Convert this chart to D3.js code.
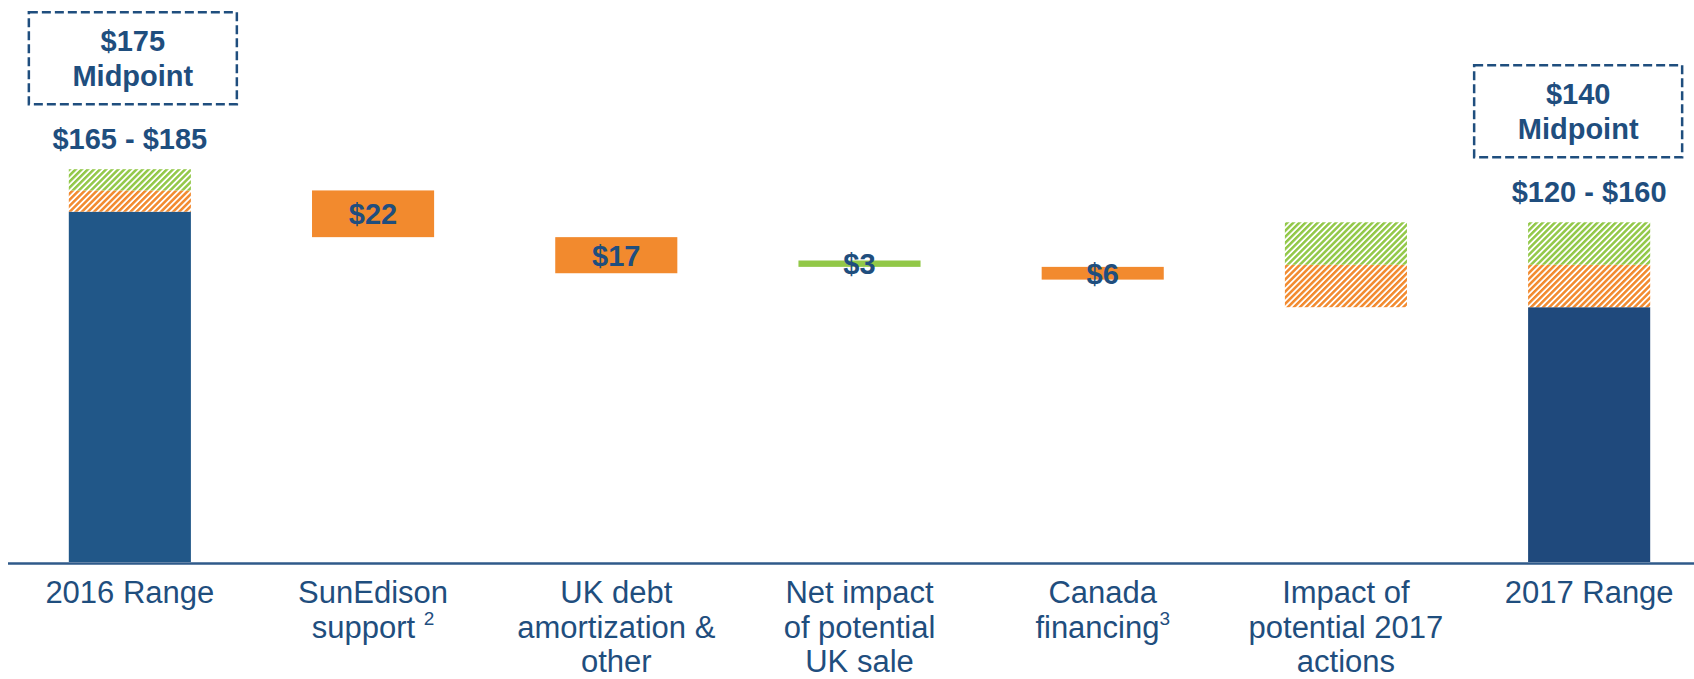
<!DOCTYPE html>
<html>
<head>
<meta charset="utf-8">
<script src="https://cdn.jsdelivr.net/npm/d3@7"></script>
<style>
  html, body { margin: 0; padding: 0; background: #fff; }
  svg { display: block; font-family: "Liberation Sans", Arial, sans-serif; }
</style>
</head>
<body>
<div id="chart"></div>
<script>
// ---- data ----
const categories = ['2016 Range', 'SunEdison support', 'UK debt amortization & other',
  'Net impact of potential UK sale', 'Canada financing', 'Impact of potential 2017 actions', '2017 Range'];
const categoryLines = [
  ['2016 Range'],
  ['SunEdison', 'support '],
  ['UK debt', 'amortization &', 'other'],
  ['Net impact', 'of potential', 'UK sale'],
  ['Canada', 'financing'],
  ['Impact of', 'potential 2017', 'actions'],
  ['2017 Range']
];
const categoryNotes = ['', '2', '', '', '3', '', ''];

// totals (range bars)
const totalCats = ['2016 Range', '2017 Range'];
const totalLow  = [165, 120];
const totalMid  = [175, 140];
const totalHigh = [185, 160];
const rangeLabels = ['$165 - $185', '$120 - $160'];
const midLabels   = ['$175', '$140'];

// floating steps
const stepCats   = ['SunEdison support', 'UK debt amortization & other', 'Net impact of potential UK sale', 'Canada financing'];
const stepLow    = [153, 136, 139, 133];
const stepHigh   = [175, 153, 142, 139];
const stepType   = ['dec', 'dec', 'inc', 'dec'];
const stepLabels = ['$22', '$17', '$3', '$6'];

// hatched range of potential 2017 actions
const actionCat  = 'Impact of potential 2017 actions';
const actionLow  = 120;
const actionMid  = 140;
const actionHigh = 160;

// ---- style ----
const W = 1694, H = 679;
const BLUE_TEXT = '#1F4E7E';
const BAR_2016 = '#215788', BAR_2017 = '#1F497C';
const ORANGE = '#F28A2E', GREEN = '#92C848';
const BOX_DX = [3, -11];   // midpoint box nudges

const svg = d3.select('#chart').append('svg').attr('width', W).attr('height', H);

const x = d3.scaleBand().domain(categories).range([8, 1711]).paddingInner(0.498).paddingOuter(0.25);
const y = d3.scaleLinear().domain([0, 185]).range([562, 169.2]);

// hatch patterns
const defs = svg.append('defs');
[['hatch-orange', ORANGE], ['hatch-green', GREEN]].forEach(([id, c]) => {
  const p = defs.append('pattern').attr('id', id).attr('patternUnits', 'userSpaceOnUse')
    .attr('width', 4.3).attr('height', 4.3).attr('patternTransform', 'rotate(45)');
  p.append('rect').attr('width', 4.3).attr('height', 4.3).attr('fill', '#fff');
  p.append('rect').attr('width', 2.5).attr('height', 4.3).attr('fill', c);
});

const g = svg.append('g');

// total bars: solid + hatched orange (low->mid) + hatched green (mid->high)
totalCats.forEach((c, i) => {
  const bx = x(c), bw = x.bandwidth();
  g.append('rect').attr('x', bx).attr('width', bw)
    .attr('y', y(totalLow[i])).attr('height', y(0) - y(totalLow[i]))
    .attr('fill', i === 0 ? BAR_2016 : BAR_2017);
  g.append('rect').attr('x', bx).attr('width', bw)
    .attr('y', y(totalMid[i])).attr('height', y(totalLow[i]) - y(totalMid[i]))
    .attr('fill', 'url(#hatch-orange)');
  g.append('rect').attr('x', bx).attr('width', bw)
    .attr('y', y(totalHigh[i])).attr('height', y(totalMid[i]) - y(totalHigh[i]))
    .attr('fill', 'url(#hatch-green)');

  const cx = bx + bw / 2;
  const labelY = y(totalHigh[i]) - 20;
  g.append('text').attr('x', cx).attr('y', labelY).attr('text-anchor', 'middle')
    .attr('font-size', 29).attr('font-weight', 'bold').attr('fill', BLUE_TEXT)
    .text(rangeLabels[i]);

  const boxBottom = labelY - 45, boxH = 92, boxW = 208;
  const bcx = cx + BOX_DX[i];
  g.append('rect').attr('x', bcx - boxW / 2).attr('y', boxBottom - boxH)
    .attr('width', boxW).attr('height', boxH)
    .attr('fill', 'none').attr('stroke', BLUE_TEXT).attr('stroke-width', 2.5)
    .attr('stroke-dasharray', '9,4');
  g.append('text').attr('x', bcx).attr('y', boxBottom - boxH + 39).attr('text-anchor', 'middle')
    .attr('font-size', 29).attr('font-weight', 'bold').attr('fill', BLUE_TEXT)
    .text(midLabels[i]);
  g.append('text').attr('x', bcx).attr('y', boxBottom - boxH + 74).attr('text-anchor', 'middle')
    .attr('font-size', 29).attr('font-weight', 'bold').attr('fill', BLUE_TEXT)
    .text('Midpoint');
});

// potential 2017 actions hatched range
g.append('rect').attr('x', x(actionCat)).attr('width', x.bandwidth())
  .attr('y', y(actionMid)).attr('height', y(actionLow) - y(actionMid))
  .attr('fill', 'url(#hatch-orange)');
g.append('rect').attr('x', x(actionCat)).attr('width', x.bandwidth())
  .attr('y', y(actionHigh)).attr('height', y(actionMid) - y(actionHigh))
  .attr('fill', 'url(#hatch-green)');

// floating step bars
const steps = stepCats.map((c, i) => ({ c, lo: stepLow[i], hi: stepHigh[i], t: stepType[i], label: stepLabels[i] }));
g.selectAll('rect.step').data(steps).join('rect').attr('class', 'step')
  .attr('x', d => x(d.c)).attr('width', x.bandwidth())
  .attr('y', d => y(d.hi)).attr('height', d => y(d.lo) - y(d.hi))
  .attr('fill', d => d.t === 'inc' ? GREEN : ORANGE);
g.selectAll('text.step').data(steps).join('text').attr('class', 'step')
  .attr('x', d => x(d.c) + x.bandwidth() / 2)
  .attr('y', d => (y(d.lo) + y(d.hi)) / 2)
  .attr('dy', '0.36em').attr('text-anchor', 'middle')
  .attr('font-size', 29).attr('font-weight', 'bold').attr('fill', BLUE_TEXT)
  .text(d => d.label);

// baseline
svg.append('line').attr('x1', 8).attr('x2', W).attr('y1', y(0) + 1.5).attr('y2', y(0) + 1.5)
  .attr('stroke', '#2F5A8A').attr('stroke-width', 2.5);

// category labels
categories.forEach((c, i) => {
  const cx = x(c) + x.bandwidth() / 2;
  const lines = categoryLines[i];
  lines.forEach((ln, j) => {
    const t = svg.append('text').attr('x', cx).attr('y', 603 + j * 34.5)
      .attr('text-anchor', 'middle').attr('font-size', 31).attr('fill', BLUE_TEXT);
    t.append('tspan').text(ln);
    if (j === lines.length - 1 && categoryNotes[i]) {
      t.append('tspan').attr('font-size', 19).attr('dy', -13).text(categoryNotes[i]);
    }
  });
});
</script>
</body>
</html>
